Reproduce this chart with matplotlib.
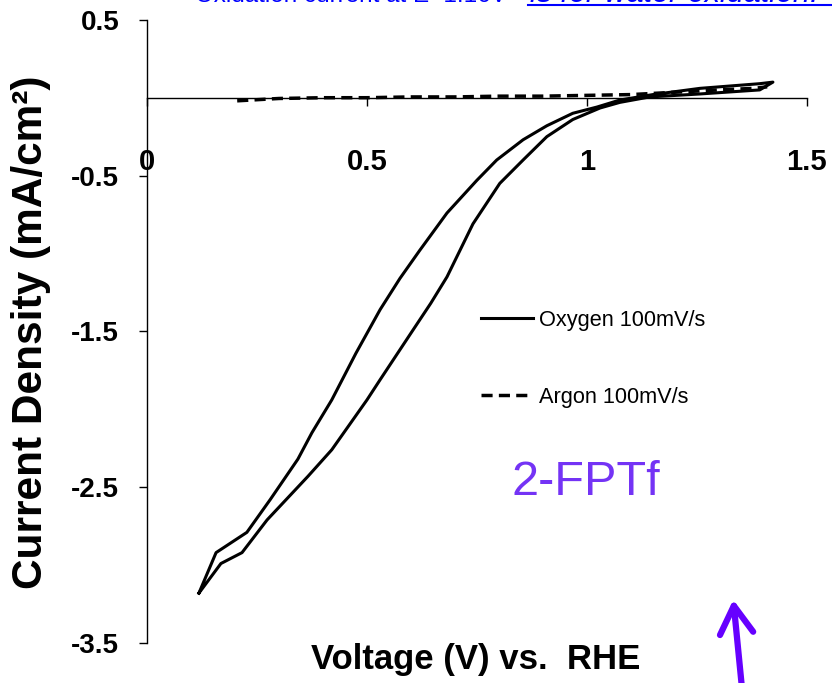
import matplotlib
matplotlib.use('Agg')
import matplotlib.pyplot as plt
from matplotlib.lines import Line2D
from matplotlib.patches import FancyArrowPatch

plt.rcParams['font.family'] = ['Liberation Sans', 'DejaVu Sans']

# Oxygen 100mV/s: closed CV loop, outer branch up then inner branch back down
oxy_v = [0.118, 0.157, 0.227, 0.280, 0.343, 0.375, 0.420, 0.475, 0.530, 0.575, 0.620, 0.682,
         0.750, 0.795, 0.855, 0.909, 0.968, 1.023, 1.075, 1.15, 1.257, 1.393, 1.423,
         1.393, 1.257, 1.143, 1.075, 1.030, 0.968, 0.909, 0.855, 0.802, 0.741,
         0.682, 0.645, 0.605, 0.530, 0.500, 0.420, 0.366, 0.273, 0.216, 0.168, 0.118]
oxy_j = [-3.18, -2.92, -2.79, -2.58, -2.32, -2.15, -1.94, -1.64, -1.36, -1.16, -0.98, -0.74,
         -0.53, -0.40, -0.27, -0.18, -0.10, -0.06, -0.015, 0.02, 0.06, 0.09, 0.10,
         0.05, 0.024, 0.005, -0.03, -0.066, -0.14, -0.25, -0.40, -0.55, -0.81,
         -1.15, -1.32, -1.49, -1.81, -1.94, -2.26, -2.43, -2.71, -2.92, -2.99, -3.18]

# Argon 100mV/s (almost flat)
ar_v = [0.205, 0.30, 0.40, 0.50, 0.60, 0.70, 0.80, 0.90, 1.00, 1.10, 1.20, 1.30, 1.38, 1.41]
ar_j = [-0.02, -0.005, 0.0, 0.0, 0.005, 0.005, 0.01, 0.01, 0.015, 0.02, 0.035, 0.05, 0.06, 0.07]

xticks = [0, 0.5, 1, 1.5]
xticklabels = ['0', '0.5', '1', '1.5']
yticks = [0.5, -0.5, -1.5, -2.5, -3.5]
yticklabels = ['0.5', '-0.5', '-1.5', '-2.5', '-3.5']

fig = plt.figure(figsize=(8.32, 6.83), dpi=100)
ax = fig.add_axes([0.1767, 0.0586, 0.793, 0.9124])

ax.plot(oxy_v, oxy_j, color='black', lw=2.2, label='Oxygen 100mV/s')
ax.plot(ar_v, ar_j, color='black', lw=2.5, dashes=(3.2, 1.8), label='Argon 100mV/s')

ax.set_xlim(0, 1.5)
ax.set_ylim(-3.5, 0.5)
ax.spines['top'].set_visible(False)
ax.spines['right'].set_visible(False)
ax.spines['bottom'].set_position(('data', 0))
ax.spines['bottom'].set_linewidth(1.0)
ax.spines['left'].set_linewidth(1.0)

ax.set_xticks(xticks)
ax.set_xticklabels(xticklabels, fontweight='bold', fontsize=21)
ax.set_yticks(yticks)
ax.set_yticklabels(yticklabels, fontweight='bold', fontsize=20)
ax.tick_params(axis='x', direction='out', length=6, width=1, pad=30)
ax.tick_params(axis='y', direction='out', length=6, width=1, pad=14)

fig.text(0.037, 0.514, 'Current Density (mA/cm²)', rotation=90, ha='center',
         va='center', fontsize=30.5, fontweight='bold')
fig.text(0.572, 0.034, 'Voltage (V) vs.  RHE', ha='center', va='center',
         fontsize=25, fontweight='bold')

leg = ax.legend(loc='upper left', bbox_to_anchor=(481 / 832, 1 - 310 / 683),
                bbox_transform=fig.transFigure, frameon=False, fontsize=15.7,
                handlelength=2.4, handletextpad=0.25, labelspacing=2.55,
                borderpad=0, borderaxespad=0)

fig.text(0.704, 0.293, '2-FPTf', ha='center', va='center', fontsize=35,
         color='#7433f5')

# blue note cut at the top of the slide
fig.text(0.234, 0.997, 'Oxidation current at E~1.16V', ha='left', va='baseline',
         fontsize=17.5, color='#0000ff')
fig.text(0.637, 0.997, 'is for water oxidation.', ha='left', va='baseline',
         fontsize=22, color='#0000ff', style='italic')
fig.add_artist(Line2D([0.635, 1.0], [0.992, 0.992], transform=fig.transFigure,
                      color='#0000ff', lw=1.5))

arrow = FancyArrowPatch((0.892, -0.01), (0.881, 0.126), transform=fig.transFigure,
                        arrowstyle='->,head_length=20,head_width=12', mutation_scale=1,
                        color='#6600ff', lw=4.5, capstyle='round', joinstyle='round')
fig.add_artist(arrow)

fig.savefig('out.png', dpi=100)
